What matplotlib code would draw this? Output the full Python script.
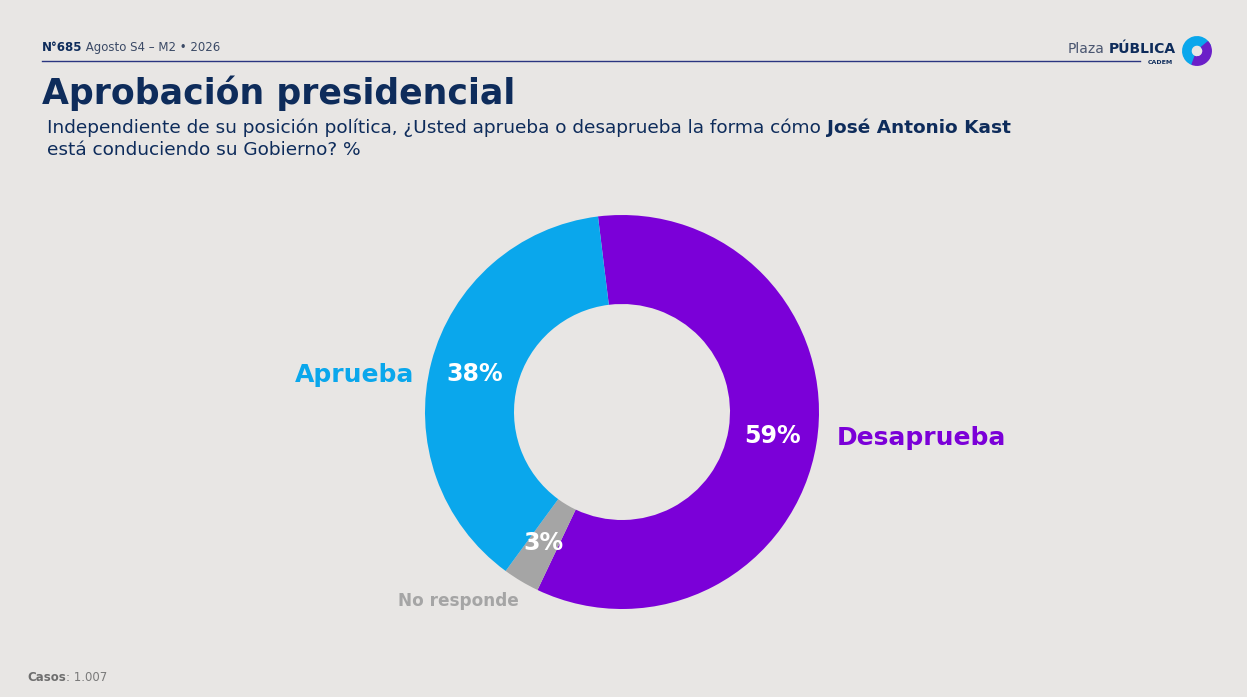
import matplotlib
matplotlib.use("Agg")
import matplotlib.pyplot as plt
import numpy as np
from matplotlib.patches import Wedge

# ---- data ----
categories = ["Desaprueba", "No responde", "Aprueba"]
values = [59, 3, 38]
pct_labels = ["59%", "3%", "38%"]
colors = ["#7B00D8", "#A5A5A5", "#0AA7EC"]

BG = "#E8E6E4"
NAVY = "#0E2C5B"
W, H = 1247, 697

plt.rcParams['font.family'] = ['DejaVu Sans']
fig = plt.figure(figsize=(W/100, H/100), dpi=100, facecolor=BG)

def px(x, y):
    return x / W, 1 - y / H

renderer = fig.canvas.get_renderer()

def pieces(x, y, parts, size, va="baseline"):
    fx, fy = px(x, y)
    cur = fx
    for txt, weight, color in parts:
        t = fig.text(cur, fy, txt, fontsize=size, fontweight=weight, color=color, va=va, ha="left")
        bb = t.get_window_extent(renderer=renderer)
        cur += bb.width / W

# header
pieces(42, 51, [("N°685", "bold", NAVY), (" Agosto S4 – M2 • 2026", "normal", "#3B4A66")], 8.5)
fig.add_artist(plt.Line2D([42/W, 1140/W], [1-61/H, 1-61/H], color="#2A3580", lw=1.0))
# logo text
t1 = fig.text(1068/W, 1-53/H, "Plaza", fontsize=10, color="#4A5670", ha="left", va="baseline")
bb = t1.get_window_extent(renderer=renderer)
fig.text((1068 + bb.width + 4)/W, 1-53/H, "PÚBLICA", fontsize=10, fontweight="bold", color=NAVY, ha="left", va="baseline")
fig.text(1160/W, 1-64/H, "CADEM", fontsize=4.5, fontweight="bold", color=NAVY, ha="center", va="baseline")
# logo icon
lax = fig.add_axes([1182/W, 1-66/H, 30/W, 30/H])
lax.set_xlim(-1, 1); lax.set_ylim(-1, 1); lax.set_aspect("equal"); lax.axis("off")
lax.add_patch(Wedge((0, 0), 0.95, 20, 250, width=0.55, color="#0AA7EC"))
lax.add_patch(Wedge((0, 0), 0.95, -110, 40, width=0.55, color="#6B1FC8"))
lax.add_patch(Wedge((0.1, -0.1), 0.6, -100, -20, width=0.3, color="#6B1FC8"))

# title and subtitle
fig.text(42/W, 1-104/H, "Aprobación presidencial", fontsize=25, fontweight="bold", color=NAVY, ha="left", va="baseline")
pieces(47, 133, [("Independiente de su posición política, ¿Usted aprueba o desaprueba la forma cómo ", "normal", NAVY),
                 ("José Antonio Kast", "bold", NAVY)], 13.3)
pieces(47, 155, [("está conduciendo su Gobierno? %", "normal", NAVY)], 13.3)

# footer
pieces(27, 681, [("Casos", "bold", "#6E6E6E"), (": 1.007", "normal", "#7A7A7A")], 8.5)

# donut
cx, cy, R, r_in = 622, 412, 197, 108
ax = fig.add_axes([(cx - R)/W, (H - cy - R)/H, 2*R/W, 2*R/H])
ax.axis("off")
wedges, _ = ax.pie(values, colors=colors, startangle=97, counterclock=False, radius=1,
                   wedgeprops=dict(width=1 - r_in/R, linewidth=0))
ax.set_xlim(-1, 1); ax.set_ylim(-1, 1); ax.set_aspect("equal")
mid_r = (1 + r_in/R) / 2
for w, lab in zip(wedges, pct_labels):
    ang = np.deg2rad((w.theta1 + w.theta2) / 2)
    ax.text(mid_r*np.cos(ang), mid_r*np.sin(ang), lab, color="white", fontsize=17, fontweight="bold",
            ha="center", va="center", clip_on=False)

ax.text(-1.055, 0.19, "Aprueba", color=colors[2], fontsize=18, fontweight="bold", ha="right", va="center", clip_on=False)
ax.text(1.09, -0.13, "Desaprueba", color=colors[0], fontsize=18, fontweight="bold", ha="left", va="center", clip_on=False)
ax.text(-0.83, -0.96, "No responde", color=colors[1], fontsize=12.2, fontweight="bold", ha="center", va="center", clip_on=False)

fig.savefig("out.png", dpi=100, facecolor=BG)
